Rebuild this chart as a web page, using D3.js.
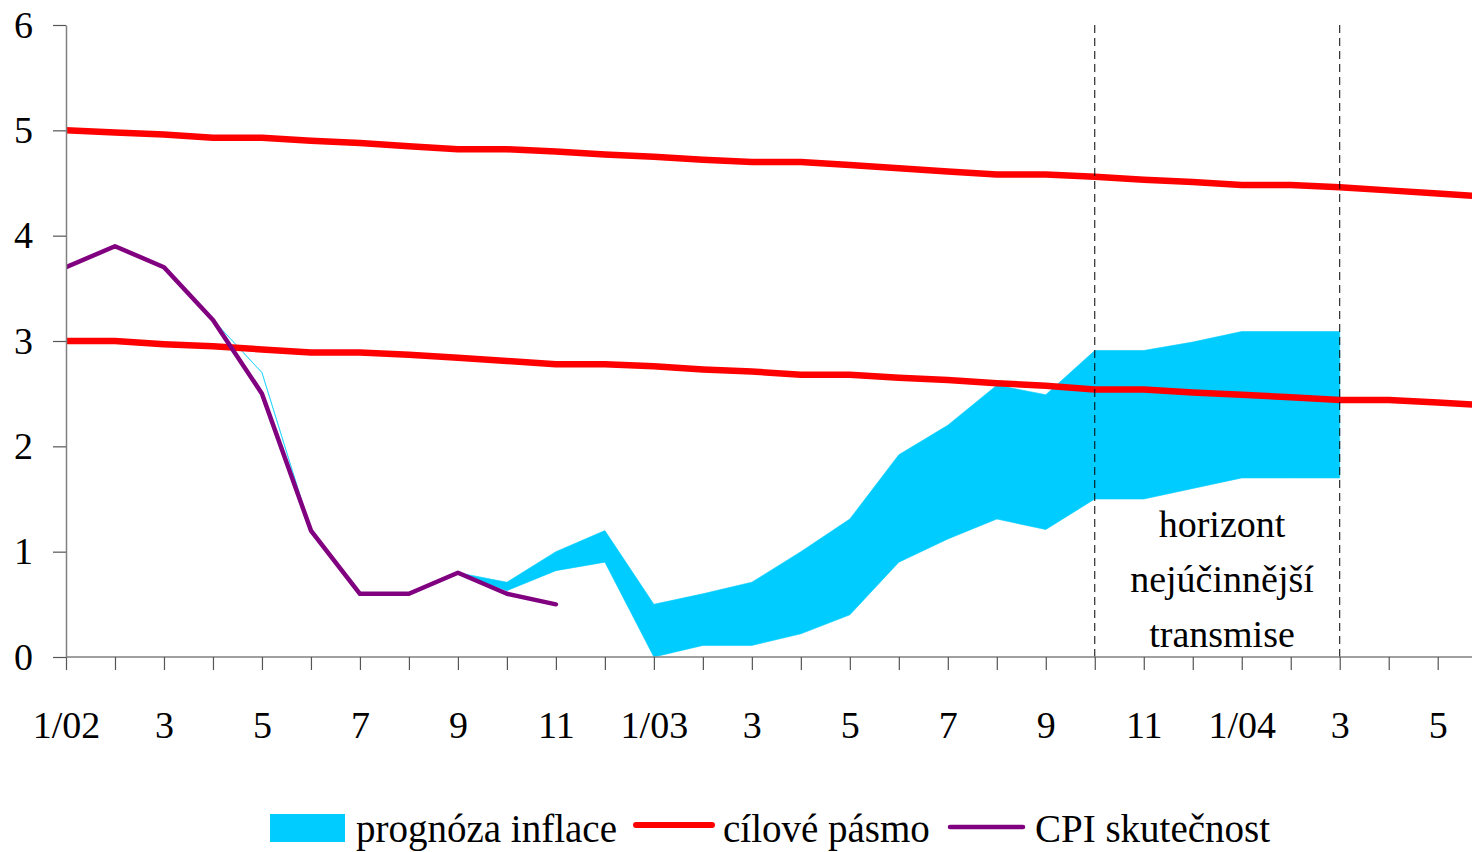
<!DOCTYPE html>
<html>
<head>
<meta charset="utf-8">
<script src="https://cdn.jsdelivr.net/npm/d3@7"></script>
<style>
  body { margin: 0; background: #fff; }
  svg { display: block; }
  text { font-family: "Liberation Serif", "Times New Roman", serif; fill: #000; }
</style>
</head>
<body>
<script>
// months 1/02 .. 6/04, labels on every other month
const months = ["1/02","2","3","4","5","6","7","8","9","10","11","12",
                "1/03","2","3","4","5","6","7","8","9","10","11","12",
                "1/04","2","3","4","5","6"];
const tickLabels = ["1/02","","3","","5","","7","","9","","11","",
                    "1/03","","3","","5","","7","","9","","11","",
                    "1/04","","3","","5"];

// target band (cílové pásmo), upper and lower edge
const targetHigh = [5.00,4.98,4.96,4.93,4.93,4.90,4.88,4.85,4.82,4.82,4.80,4.77,
                    4.75,4.72,4.70,4.70,4.67,4.64,4.61,4.58,4.58,4.56,4.53,4.51,
                    4.48,4.48,4.46,4.43,4.40,4.37];
const targetLow  = [3.00,3.00,2.97,2.95,2.92,2.89,2.89,2.87,2.84,2.81,2.78,2.78,
                    2.76,2.73,2.71,2.68,2.68,2.65,2.63,2.60,2.575,2.54,2.54,2.51,
                    2.49,2.465,2.44,2.44,2.415,2.39];

// inflation forecast band (prognóza inflace)
const forecastLow  = [null,null,null,3.2,2.7,1.2,0.6,0.6,0.8,0.63,0.82,0.9,
                      0.0,0.11,0.11,0.22,0.40,0.90,1.12,1.31,1.21,1.50,1.50,1.60,
                      1.70,1.70,1.70];
const forecastHigh = [null,null,null,3.2,2.7,1.2,0.6,0.6,0.8,0.71,1.0,1.2,
                      0.5,0.6,0.71,1.0,1.31,1.92,2.2,2.58,2.49,2.91,2.91,2.99,
                      3.09,3.09,3.09];

// actual CPI (CPI skutečnost)
const cpi = [3.7,3.9,3.7,3.2,2.5,1.2,0.6,0.6,0.8,0.6,0.5];

const yTicks = [0,1,2,3,4,5,6];
const horizonStart = 21, horizonEnd = 26;   // 10/03 .. 3/04
const horizonText = ["horizont", "nejúčinnější", "transmise"];

const width = 1472, height = 852;
const plotLeft = 66, plotTop = 25, plotBottom = 657;

const svg = d3.select("body").append("svg")
    .attr("width", width)
    .attr("height", height);

const x = d3.scaleLinear().domain([0, 28.7]).range([plotLeft, width]);
const y = d3.scaleLinear().domain([0, 6]).range([plotBottom, plotTop]);

svg.append("clipPath").attr("id", "plot")
  .append("rect")
    .attr("x", plotLeft).attr("y", 0)
    .attr("width", width - plotLeft).attr("height", plotBottom + 5);

const plot = svg.append("g").attr("clip-path", "url(#plot)");

// forecast band
const bandData = forecastLow.map((v, i) => ({ i, lo: v, hi: forecastHigh[i] }))
    .filter(d => d.lo != null);
const area = d3.area()
    .x(d => x(d.i))
    .y0(d => y(d.lo))
    .y1(d => y(d.hi));
plot.append("path")
    .datum(bandData)
    .attr("d", area)
    .attr("fill", "#00CCFF")
    .attr("stroke", "#00CCFF")
    .attr("stroke-width", 0.6);

// target band lines
const line = d3.line().x((d, i) => x(i)).y(d => y(d));
[targetHigh, targetLow].forEach(s => {
  plot.append("path")
      .datum(s)
      .attr("d", line)
      .attr("fill", "none")
      .attr("stroke", "#FF0000")
      .attr("stroke-width", 6.5)
      .attr("stroke-linejoin", "round");
});

// actual CPI
plot.append("path")
    .datum(cpi)
    .attr("d", line)
    .attr("fill", "none")
    .attr("stroke", "#800080")
    .attr("stroke-width", 4.5)
    .attr("stroke-linejoin", "round")
    .attr("stroke-linecap", "round");

// horizon dashed lines
[horizonStart, horizonEnd].forEach(i => {
  svg.append("line")
      .attr("x1", x(i)).attr("x2", x(i))
      .attr("y1", plotTop).attr("y2", plotBottom)
      .attr("stroke", "#000")
      .attr("stroke-width", 1)
      .attr("stroke-dasharray", "8,5");
});

// axes
const xAxis = d3.axisBottom(x)
    .tickValues(d3.range(0, 29))
    .tickFormat(i => tickLabels[i])
    .tickSize(13)
    .tickSizeOuter(0)
    .tickPadding(41);
const gx = svg.append("g")
    .attr("transform", `translate(0,${plotBottom})`)
    .call(xAxis);

const yAxis = d3.axisLeft(y)
    .tickValues(yTicks)
    .tickFormat(d3.format("d"))
    .tickSize(13)
    .tickSizeOuter(0)
    .tickPadding(20);
const gy = svg.append("g")
    .attr("transform", `translate(${plotLeft},0)`)
    .call(yAxis);

[gx, gy].forEach(g => {
  g.select(".domain").attr("stroke", "#808080").attr("stroke-width", 1.5);
  g.selectAll(".tick line").attr("stroke", "#555").attr("stroke-width", 1.2);
  g.selectAll(".tick text")
      .style("font-family", "'Liberation Serif', 'Times New Roman', serif")
      .style("font-size", "38px")
      .attr("fill", "#000");
});
gx.select(".domain").attr("d", `M${plotLeft},0H${width}`);

// horizon annotation
svg.append("text")
    .attr("text-anchor", "middle")
    .style("font-size", "38px")
    .selectAll("tspan")
    .data(horizonText)
    .join("tspan")
      .attr("x", 1222)
      .attr("y", (d, i) => 537 + i * 55)
      .text(d => d);

// legend
const legend = svg.append("g").style("font-size", "39px");
legend.append("rect")
    .attr("x", 270).attr("y", 814)
    .attr("width", 75).attr("height", 28)
    .attr("fill", "#00CCFF");
legend.append("text").attr("x", 356).attr("y", 842).text("prognóza inflace");

legend.append("line")
    .attr("x1", 636).attr("x2", 712)
    .attr("y1", 825).attr("y2", 825)
    .attr("stroke", "#FF0000").attr("stroke-width", 6)
    .attr("stroke-linecap", "round");
legend.append("text").attr("x", 723).attr("y", 842).text("cílové pásmo");

legend.append("line")
    .attr("x1", 950).attr("x2", 1023)
    .attr("y1", 827).attr("y2", 827)
    .attr("stroke", "#800080").attr("stroke-width", 4.5)
    .attr("stroke-linecap", "round");
legend.append("text").attr("x", 1035).attr("y", 842).text("CPI skutečnost");
</script>
</body>
</html>
